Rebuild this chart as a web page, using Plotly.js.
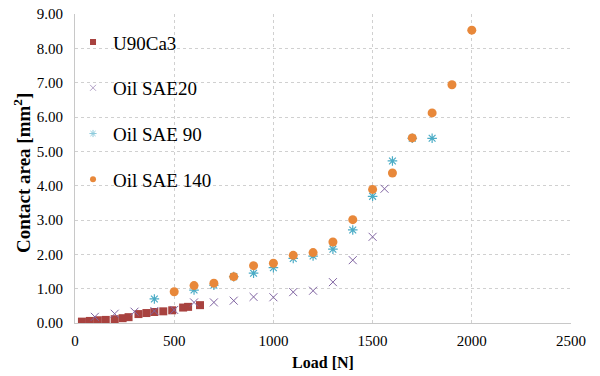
<!DOCTYPE html>
<html>
<head>
<meta charset="utf-8">
<script src="https://cdn.plot.ly/plotly-3.0.1.min.js"></script>
<style>html,body{margin:0;padding:0;background:#fff;}#chart{width:600px;height:376px;}</style>
</head>
<body>
<div id="chart"></div>
<script>
var u90Load = [35, 75, 115, 155, 200, 240, 270, 320, 360, 400, 445, 490, 545, 570, 630];
var u90Area = [0.04, 0.06, 0.08, 0.09, 0.11, 0.14, 0.17, 0.26, 0.29, 0.32, 0.34, 0.37, 0.45, 0.47, 0.52];

var sae20Load = [100, 200, 300, 400, 500, 600, 700, 800, 900, 1000, 1100, 1200, 1300, 1400, 1500, 1560];
var sae20Area = [0.18, 0.27, 0.33, 0.35, 0.38, 0.60, 0.60, 0.65, 0.76, 0.75, 0.90, 0.94, 1.19, 1.83, 2.51, 3.91];

var sae90Load = [400, 600, 700, 800, 900, 1000, 1100, 1200, 1300, 1400, 1500, 1600, 1700, 1800];
var sae90Area = [0.70, 0.96, 1.10, 1.35, 1.45, 1.61, 1.88, 1.95, 2.15, 2.71, 3.69, 4.72, 5.38, 5.38];

var sae140Load = [500, 600, 700, 800, 900, 1000, 1100, 1200, 1300, 1400, 1500, 1600, 1700, 1800, 1900, 2000];
var sae140Area = [0.91, 1.09, 1.16, 1.35, 1.67, 1.74, 1.97, 2.05, 2.36, 3.01, 3.89, 4.37, 5.39, 6.12, 6.94, 8.53];

var seriesNames = ["U90Ca3", "Oil SAE20", "Oil SAE 90", "Oil SAE 140"];
var xTitle = "Load [N]";
var yTitle = "Contact area [mm<sup>2</sup>]";

var serif = "Liberation Serif";

var styles = [
  {symbol: "square", size: 8, color: "#A8423F"},
  {symbol: "x-thin-open", size: 8, color: "#8064A2", line: {width: 1, color: "#8064A2"}},
  {symbol: "asterisk-open", size: 8, color: "#4BACC6", line: {width: 1.2, color: "#4BACC6"}},
  {symbol: "circle", size: 9, color: "#E8883A"}
];
var legendStyles = [
  {symbol: "square", size: 6, color: "#A8423F"},
  {symbol: "x-thin-open", size: 6, color: "#B3A2C7", line: {width: 1, color: "#B3A2C7"}},
  {symbol: "asterisk-open", size: 6, color: "#8DCBDC", line: {width: 1, color: "#8DCBDC"}},
  {symbol: "circle", size: 6, color: "#E8883A"}
];
var xs = [u90Load, sae20Load, sae90Load, sae140Load];
var ys = [u90Area, sae20Area, sae90Area, sae140Area];

var traces = [];
for (var i = 0; i < 4; i++) {
  traces.push({x: xs[i], y: ys[i], name: seriesNames[i], mode: "markers", type: "scatter",
               showlegend: false, marker: styles[i]});
}
for (var j = 0; j < 4; j++) {
  traces.push({x: [null], y: [null], name: seriesNames[j], mode: "markers", type: "scatter",
               legendgroup: "g" + j, showlegend: true, marker: legendStyles[j]});
}

var layout = {
  width: 600, height: 376,
  margin: {l: 75, r: 29, t: 14, b: 53},
  paper_bgcolor: "#fff", plot_bgcolor: "#fff",
  font: {family: serif, color: "#000", size: 15},
  showlegend: true,
  legend: {x: -0.004, y: 0.97, xanchor: "left", yanchor: "top", bgcolor: "rgba(0,0,0,0)",
           font: {family: serif, size: 19, color: "#000"}, tracegroupgap: 18, itemsizing: "trace"},
  xaxis: {range: [0, 2500], dtick: 500, tick0: 0, showgrid: true, gridcolor: "#d0d0d0", griddash: "dot",
          zeroline: false, showline: true, linecolor: "#c8c8c8", linewidth: 1,
          ticks: "outside", ticklen: 4, tickcolor: "rgba(0,0,0,0)",
          tickfont: {family: serif, size: 15, color: "#000"}, fixedrange: true,
          title: {text: "<b>" + xTitle + "</b>", font: {family: serif, size: 16}, standoff: 8}},
  yaxis: {range: [0, 9], dtick: 1, tick0: 0, tickformat: ".2f", showgrid: true, gridcolor: "#d0d0d0", griddash: "dot",
          zeroline: false, showline: true, linecolor: "#c8c8c8", linewidth: 1,
          ticks: "outside", ticklen: 8, tickcolor: "rgba(0,0,0,0)",
          tickfont: {family: serif, size: 15, color: "#000"}, fixedrange: true},
  annotations: [{
    text: "<b>" + yTitle + "</b>", textangle: -90, showarrow: false,
    xref: "paper", yref: "paper", x: -0.107, y: 0.485, xanchor: "center", yanchor: "middle",
    font: {family: serif, size: 19, color: "#000"}
  }]
};

Plotly.newPlot("chart", traces, layout, {displayModeBar: false, staticPlot: true});
</script>
</body>
</html>
